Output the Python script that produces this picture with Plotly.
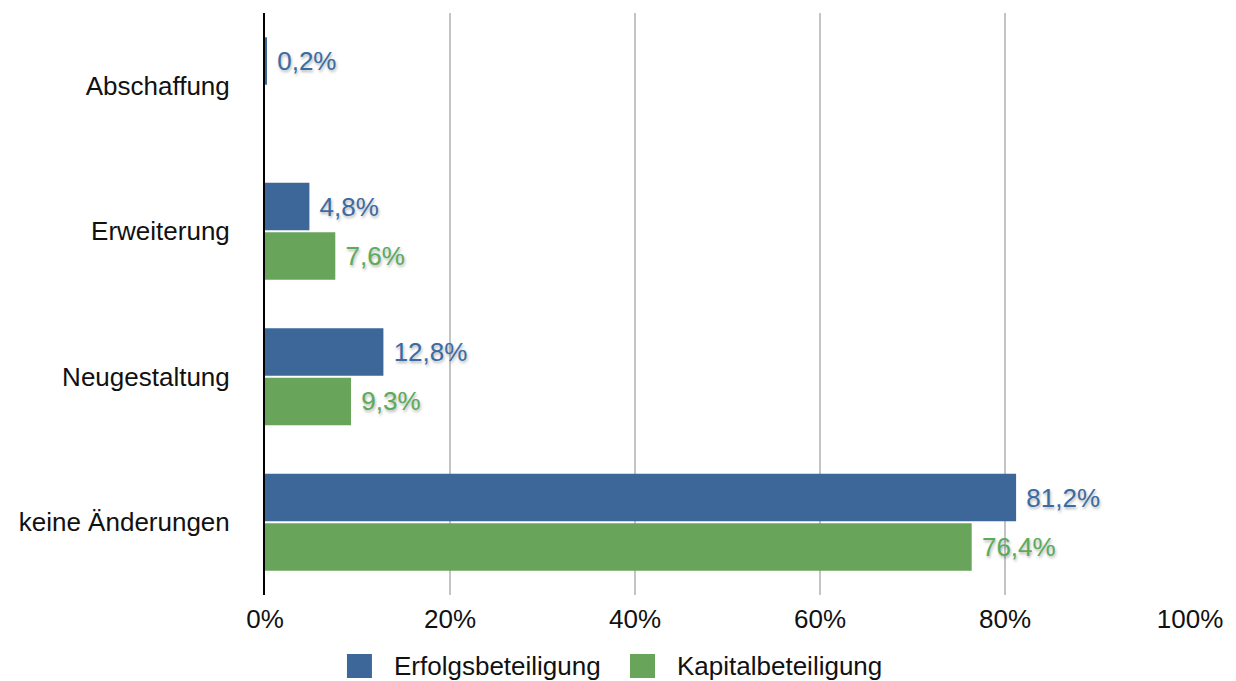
import plotly.graph_objects as go

categories = ["Abschaffung", "Erweiterung", "Neugestaltung", "keine Änderungen"]
erfolg = [0.2, 4.8, 12.8, 81.2]
kapital = [None, 7.6, 9.3, 76.4]
x_ticks = [0, 20, 40, 60, 80, 100]
series_names = ["Erfolgsbeteiligung", "Kapitalbeteiligung"]

BLUE = "#3d6699"
GREEN = "#68a45a"
BLUE_TXT = "#3a6ca3"
GREEN_TXT = "#5aab5a"
FONT = "Liberation Sans, Helvetica, Arial, sans-serif"
FS = 26
SHADOW = "1px 2px 3px rgba(0,0,0,0.3)"


def fmt(v):
    return "" if v is None else " " + f"{v:.1f}".replace(".", ",") + "%"


fig = go.Figure()
for name, vals, col, tcol in [(series_names[0], erfolg, BLUE, BLUE_TXT),
                              (series_names[1], kapital, GREEN, GREEN_TXT)]:
    fig.add_trace(go.Bar(
        name=name, y=categories, x=vals, orientation="h",
        marker=dict(color=col, line=dict(width=0)),
        text=[fmt(v) for v in vals], textposition="outside",
        textfont=dict(color=tcol, size=FS, family=FONT, shadow=SHADOW),
        cliponaxis=False, showlegend=False,
    ))

# legend drawn below the axis: large square swatches followed by the series names
legend_items = [(series_names[0], BLUE, 0.0886), (series_names[1], GREEN, 0.3946)]
for name, col, x0 in legend_items:
    fig.add_shape(type="rect", xref="paper", yref="paper",
                  x0=x0, x1=x0 + 0.027, y0=-0.1426, y1=-0.1014,
                  fillcolor=col, line=dict(width=0))
    fig.add_annotation(xref="paper", yref="paper", x=x0 + 0.0487, y=-0.122,
                       text=name, showarrow=False, xanchor="left", yanchor="middle",
                       font=dict(size=FS, family=FONT, color="#111111"))

fig.update_layout(
    width=1236, height=681,
    margin=dict(l=265, r=46, t=13, b=86, autoexpand=False),
    barmode="group", bargap=0.32, bargroupgap=0.04,
    plot_bgcolor="white", paper_bgcolor="white",
    font=dict(family=FONT, size=FS, color="#111111"),
    showlegend=False,
    xaxis=dict(range=[0, 100], tickvals=x_ticks,
               ticktext=[f"{t}%" for t in x_ticks],
               showgrid=True, gridcolor="#c4c4c4", gridwidth=2,
               zeroline=False, showline=False, ticks="", ticklen=0,
               tickfont=dict(size=FS), ticklabelstandoff=6, automargin=False),
    yaxis=dict(autorange="reversed", showline=True, linecolor="#000000", linewidth=2,
               ticks="", showgrid=False, tickfont=dict(size=FS),
               ticklabelstandoff=28, automargin=False),
)

fig.write_html("out.html")
